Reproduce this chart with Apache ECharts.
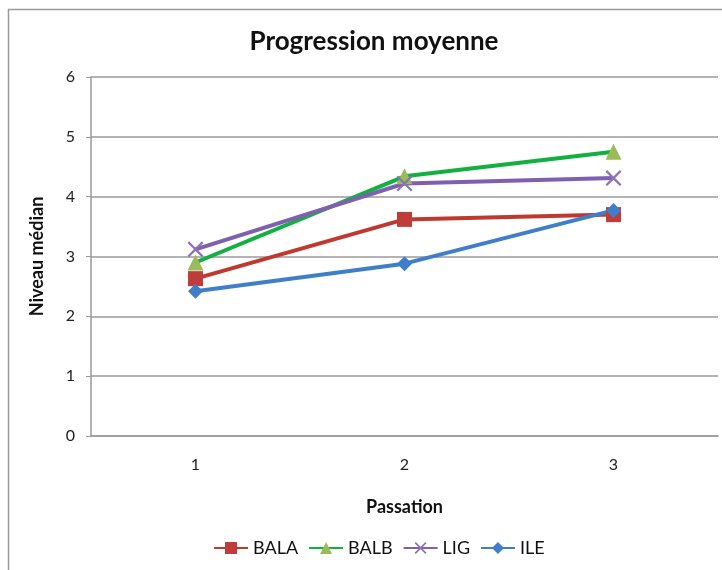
<!DOCTYPE html>
<html>
<head>
<meta charset="utf-8">
<script src="https://cdn.jsdelivr.net/npm/echarts@6/dist/echarts.min.js"></script>
<style>
html,body{margin:0;padding:0;background:#fff;}
#chart{width:722px;height:570px;}
</style>
</head>
<body>
<div id="chart"></div>
<script>
var categories = ['1', '2', '3'];
var BALA = [2.63, 3.62, 3.70];
var BALB = [2.90, 4.34, 4.75];
var LIG = [3.12, 4.22, 4.31];
var ILE = [2.42, 2.88, 3.77];
var yTicks = [0, 1, 2, 3, 4, 5, 6];

var FONT = 'Lato, "Open Sans", sans-serif';
var crossPath = 'path://M0,1 L1,0 L5,4 L9,0 L10,1 L6,5 L10,9 L9,10 L5,6 L1,10 L0,9 L4,5 Z';

function mk(name, data, lineColor, markColor, symbol, size) {
  return {
    name: name, type: 'line', data: data,
    symbol: symbol, symbolSize: size,
    lineStyle: {color: lineColor, width: 4},
    itemStyle: {color: markColor, borderWidth: 0},
    emphasis: {disabled: true},
    z: 3
  };
}

var chart = echarts.init(document.getElementById('chart'), null, {renderer: 'canvas'});
chart.setOption({
  animation: false,
  backgroundColor: '#fff',
  graphic: [{
    type: 'rect', shape: {x: 8.5, y: 9.5, width: 740, height: 600},
    style: {fill: 'none', stroke: '#9a9a9a', lineWidth: 1.5}, z: -1
  }],
  title: {
    text: 'Progression moyenne', left: 369, top: 24, textAlign: 'center',
    textStyle: {fontFamily: FONT, fontSize: 26, fontWeight: 'bold', color: '#111'}
  },
  grid: {left: 91, right: 4, top: 77, bottom: 134},
  legend: {
    bottom: 8, left: 208, itemWidth: 34, itemHeight: 15, itemGap: 10,
    textStyle: {fontFamily: FONT, fontSize: 18, color: '#111'},
    data: ['BALA', 'BALB', 'LIG', 'ILE']
  },
  xAxis: {
    type: 'category', data: categories, boundaryGap: true,
    name: 'Passation', nameLocation: 'middle', nameGap: 62,
    nameTextStyle: {fontFamily: FONT, fontSize: 18, fontWeight: 'bold', color: '#111'},
    axisLine: {lineStyle: {color: '#999', width: 1.5}},
    axisTick: {show: false},
    axisLabel: {fontFamily: FONT, fontSize: 16, color: '#222', margin: 21}
  },
  yAxis: {
    type: 'value', min: yTicks[0], max: yTicks[yTicks.length - 1], interval: 1,
    name: 'Niveau médian', nameLocation: 'middle', nameGap: 45,
    nameTextStyle: {fontFamily: FONT, fontSize: 18, fontWeight: 'bold', color: '#111'},
    axisLine: {show: true, lineStyle: {color: '#999', width: 1.5}},
    axisTick: {show: true, inside: false, length: 5, lineStyle: {color: '#999'}},
    axisLabel: {fontFamily: FONT, fontSize: 16, color: '#222', margin: 16},
    splitLine: {lineStyle: {color: '#9a9a9a', width: 1.5}}
  },
  series: [
    mk('BALA', BALA, '#c0392f', '#be3c3a', 'rect', 15),
    mk('BALB', BALB, '#12b040', '#9bbb59', 'triangle', 16),
    mk('LIG', LIG, '#7f5fb0', '#8c72b8', crossPath, 16),
    mk('ILE', ILE, '#3f7fca', '#3f7fca', 'diamond', 15)
  ]
});
</script>
</body>
</html>
